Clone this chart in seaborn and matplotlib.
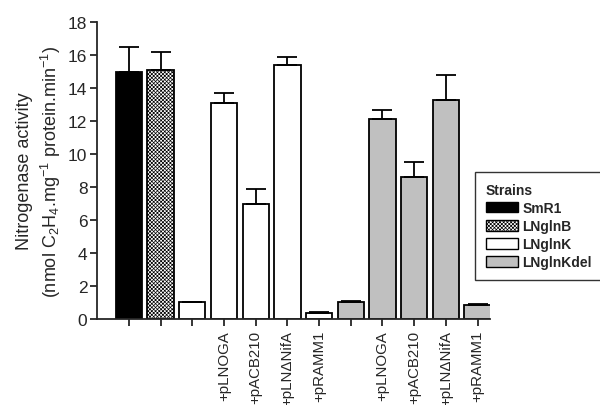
import matplotlib
matplotlib.use("Agg")
import matplotlib.pyplot as plt
import seaborn as sns
import pandas as pd
from matplotlib.patches import Patch

strains = ["SmR1", "LNglnB", "LNglnK", "LNglnK", "LNglnK", "LNglnK", "LNglnK",
           "LNglnKdel", "LNglnKdel", "LNglnKdel", "LNglnKdel", "LNglnKdel"]
tick_labels = ["", "", "", "+pLNOGA", "+pACB210", "+pLN\u0394NifA", "+pRAMM1",
               "", "+pLNOGA", "+pACB210", "+pLN\u0394NifA", "+pRAMM1"]
values = [15.0, 15.1, 1.0, 13.1, 7.0, 15.4, 0.35, 1.0, 12.1, 8.6, 13.3, 0.85]
errors = [1.5, 1.1, 0.05, 0.6, 0.9, 0.5, 0.05, 0.1, 0.6, 0.9, 1.5, 0.05]
legend_strains = ["SmR1", "LNglnB", "LNglnK", "LNglnKdel"]
colors = {"SmR1": "#000000", "LNglnB": "#ffffff", "LNglnK": "#ffffff", "LNglnKdel": "#c0c0c0"}

sns.set_style("ticks")
plt.rcParams["font.family"] = ["Liberation Sans", "DejaVu Sans"]
plt.rcParams["mathtext.fontset"] = "custom"
plt.rcParams["mathtext.rm"] = "Liberation Sans"
plt.rcParams["mathtext.it"] = "Liberation Sans:italic"
plt.rcParams["hatch.linewidth"] = 0.5

HATCH = "xxxxxxxxx"

pos = list(range(1, len(values) + 1))
df = pd.DataFrame({"pos": pos, "value": values, "strain": strains})

fig = plt.figure(figsize=(6, 4.06), dpi=100)
ax = fig.add_axes([0.162, 0.212, 0.655, 0.731])

sns.barplot(data=df, x="pos", y="value", hue="strain", palette=colors,
            native_scale=True, dodge=False, width=0.83, edgecolor="black",
            linewidth=1.3, legend=False, ax=ax)

for p in ax.patches:
    x = p.get_x() + p.get_width() / 2
    idx = int(round(x)) - 1
    if 0 <= idx < len(strains) and strains[idx] == "LNglnB":
        p.set_hatch(HATCH)

ax.errorbar(pos, values, yerr=[[0] * len(errors), errors], fmt="none",
            ecolor="black", elinewidth=1.3, capsize=7, capthick=1.3)

ax.set_xlim(0, 12.4)
ax.set_ylim(0, 18)
ax.set_yticks(range(0, 19, 2))
ax.set_xticks(pos)
ax.set_xticklabels(tick_labels, rotation=90, fontsize=10.8)
ax.tick_params(axis="y", labelsize=12.5, width=1.3, length=5, direction="out", pad=2)
ax.tick_params(axis="x", width=1.3, length=5, direction="out", pad=3)
for s in ["left", "bottom"]:
    ax.spines[s].set_linewidth(1.3)
sns.despine(ax=ax)
ax.set_xlabel("")
ax.set_ylabel("Nitrogenase activity\n(nmol C$_2$H$_4$.mg$^{-1}$ protein.min$^{-1}$)",
              fontsize=13, labelpad=4, linespacing=1.3)

handles = []
for s in legend_strains:
    h = Patch(facecolor=colors[s], edgecolor="black", linewidth=1.0,
              hatch=HATCH if s == "LNglnB" else None, label=s)
    handles.append(h)
leg = fig.legend(handles=handles, title="Strains", loc="upper left",
                 bbox_to_anchor=(0.78, 0.592), frameon=True, fancybox=False,
                 edgecolor="black", prop={"weight": "bold", "size": 10},
                 handlelength=2.3, handleheight=0.8, borderpad=0.8,
                 labelspacing=0.3, handletextpad=0.3)
leg.get_frame().set_linewidth(1.0)
leg.get_title().set_fontweight("bold")
leg.get_title().set_fontsize(10)
leg._legend_box.align = "left"

fig.savefig("out.png", dpi=100)
